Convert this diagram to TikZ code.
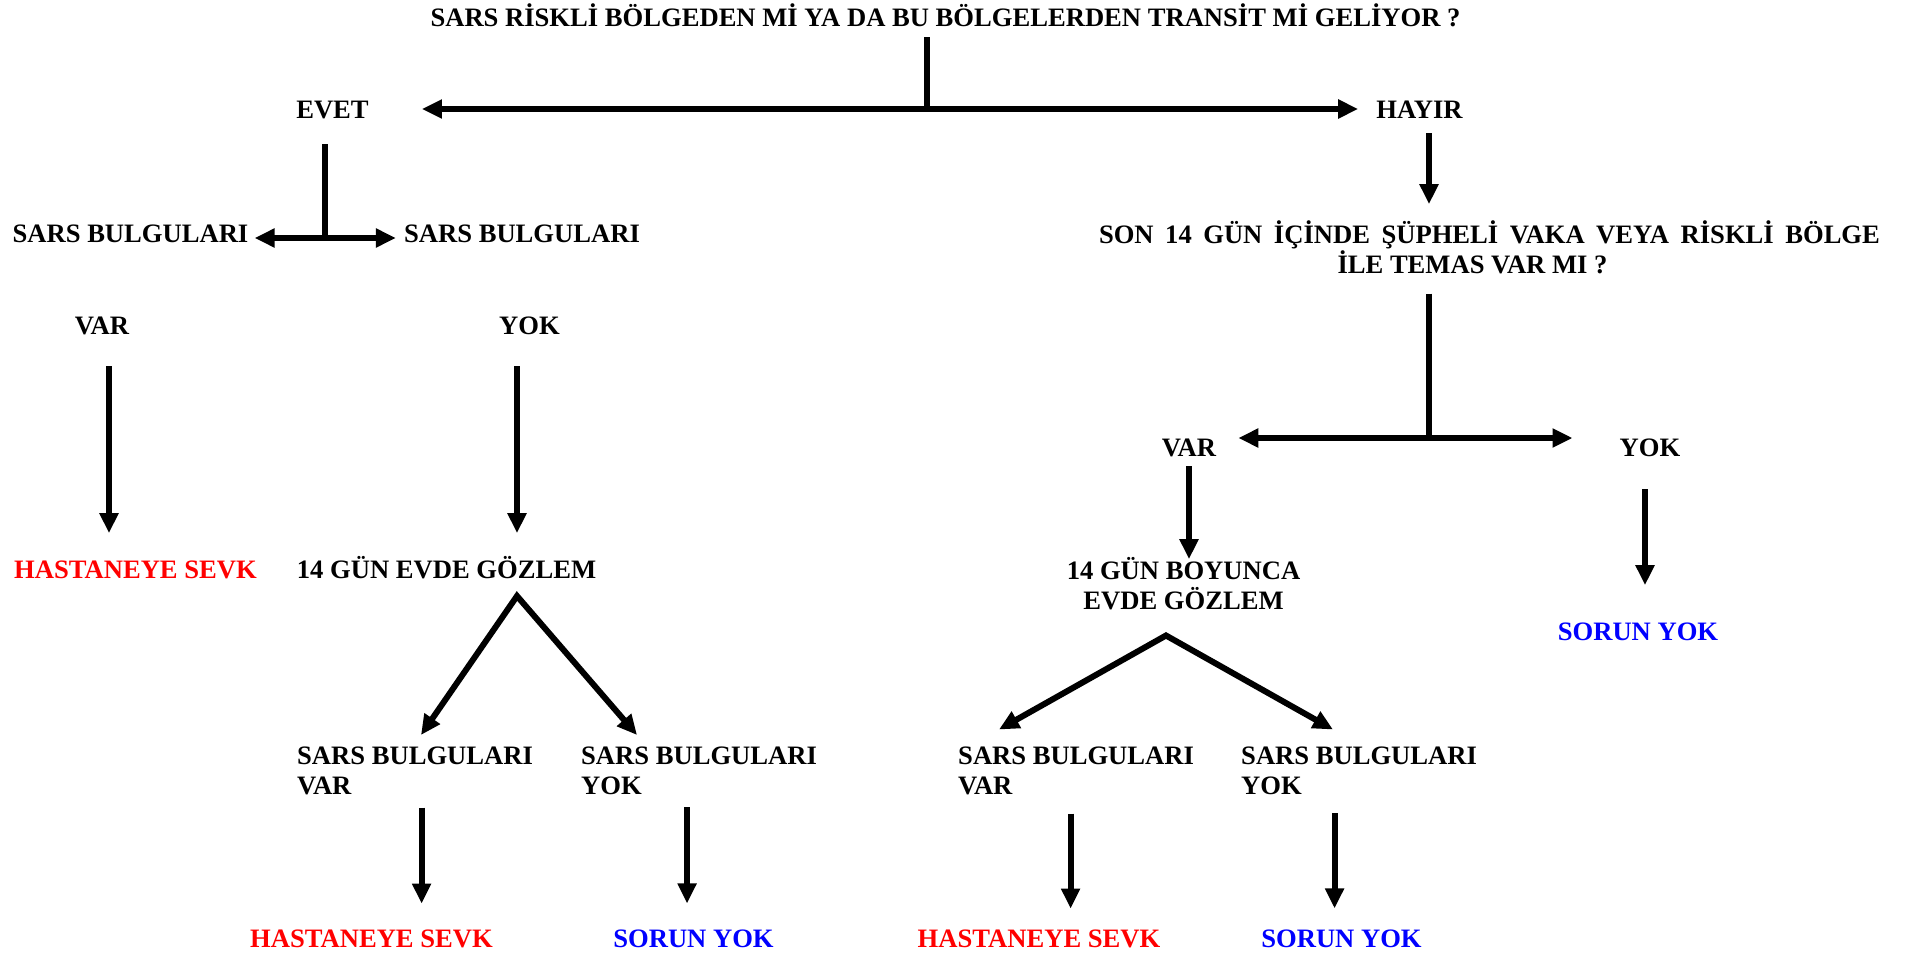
\documentclass[tikz,border=0pt]{standalone}
\usepackage{fontspec}
\setmainfont{Liberation Serif}
\usetikzlibrary{arrows.meta}
\begin{document}
\begin{tikzpicture}[x=1pt, y=-1pt,
  txt/.style={inner sep=0pt, font=\fontsize{26.6}{30}\selectfont\bfseries},
  one/.style={txt, text height=20pt, text depth=0pt, anchor=base},
  two/.style={txt, anchor=base west, align=left},
  stroke/.style={line width=6pt},
  arr/.style={stroke, -{Triangle[length=20pt, width=18pt]}},
  dbl/.style={stroke, line join=miter, {Triangle[length=20pt, width=18pt]}-{Triangle[length=20pt, width=18pt]}}]
  \useasboundingbox (0,0) rectangle (1906,955);
  \node[one] (soru1) at (945.5,27) {SARS RİSKLİ BÖLGEDEN Mİ YA DA BU BÖLGELERDEN TRANSİT Mİ GELİYOR ?};
  \node[one] (evet) at (332.5,119) {EVET};
  \node[one] (hayir) at (1419.5,119) {HAYIR};
  \node[one] (sbL) at (130.5,242) {SARS BULGULARI};
  \node[one] (sbR) at (522,242) {SARS BULGULARI};
  \node[one] (varL) at (102,334) {VAR};
  \node[one] (yokL) at (529.5,334) {YOK};
  \node[one, red] (sevk1) at (135.5,578) {HASTANEYE SEVK};
  \node[one] (ev1) at (446.5,578) {14 GÜN EVDE GÖZLEM};
  \node[txt, anchor=base, align=center] (soru2) at (1489.5,273)
    {\makebox[781pt][s]{SON 14 GÜN İÇİNDE ŞÜPHELİ VAKA VEYA RİSKLİ BÖLGE}\\İLE TEMAS VAR MI ?\hspace*{34pt}};
  \node[one] (varR) at (1189,456) {VAR};
  \node[one] (yokR) at (1650,456) {YOK};
  \node[txt, anchor=base, align=center] (ev2) at (1183.5,609) {14 GÜN BOYUNCA\\EVDE GÖZLEM};
  \node[one, blue] (yok1) at (1638,640) {SORUN YOK};
  \node[two] (s1) at (297,794) {SARS BULGULARI\\VAR};
  \node[two] (s2) at (581,794) {SARS BULGULARI\\YOK};
  \node[two] (s3) at (958,794) {SARS BULGULARI\\VAR};
  \node[two] (s4) at (1241,794) {SARS BULGULARI\\YOK};
  \node[one, red] (sevk2) at (371.5,947) {HASTANEYE SEVK};
  \node[one, blue] (yok2) at (693.5,947) {SORUN YOK};
  \node[one, red] (sevk3) at (1039,947) {HASTANEYE SEVK};
  \node[one, blue] (yok3) at (1341.5,947) {SORUN YOK};

  \coordinate (j0) at (926.5,109);
  \coordinate (j1) at (325,238);
  \coordinate (j2) at (1429,438);
  \coordinate (f1) at (517,596);
  \coordinate (f2) at (1166,635.5);

  \draw[stroke] (j0 |- soru1.south) ++(0,10) -- (j0);
  \draw[arr, shorten >=53pt] (j0) -- (evet.east |- j0);
  \draw[arr, shorten >=18pt] (j0) -- (hayir.west |- j0);
  \draw[stroke] (j1 |- evet.south) ++(0,25) -- (j1);
  \draw[arr, shorten >=6pt] (j1) -- (sbL.east |- j1);
  \draw[arr, shorten >=8pt] (j1) -- (sbR.west |- j1);
  \draw[arr] (varL.south) ++(7,32) -- ++(0,167);
  \draw[arr] (yokL.south) ++(-12.5,32) -- ++(0,167);
  \draw[dbl] (f1) ++(-96,139) -- (f1) -- ++(120,139);
  \draw[arr] (s1.south) ++(6.5,13) -- ++(0,96);
  \draw[arr] (s2.south) ++(-12,13) -- ++(0,96);
  \draw[arr] (j2 |- hayir.south) ++(0,14) -- ++(0,71);
  \draw[stroke] (j2 |- soru2.south) ++(0,20) -- (j2);
  \draw[arr, shorten >=22pt] (j2) -- (varR.east |- j2);
  \draw[arr, shorten >=47pt] (j2) -- (yokR.west |- j2);
  \draw[arr] (varR.south) ++(0,10) -- ++(0,93);
  \draw[arr] (yokR.south) ++(-5,33) -- ++(0,96);
  \draw[dbl] (f2) ++(-167,94) -- (f2) -- ++(167,94);
  \draw[arr] (s3.south) ++(-5.5,19) -- ++(0,95);
  \draw[arr] (s4.south) ++(-24.5,19) -- ++(0,95);
\end{tikzpicture}
\end{document}
